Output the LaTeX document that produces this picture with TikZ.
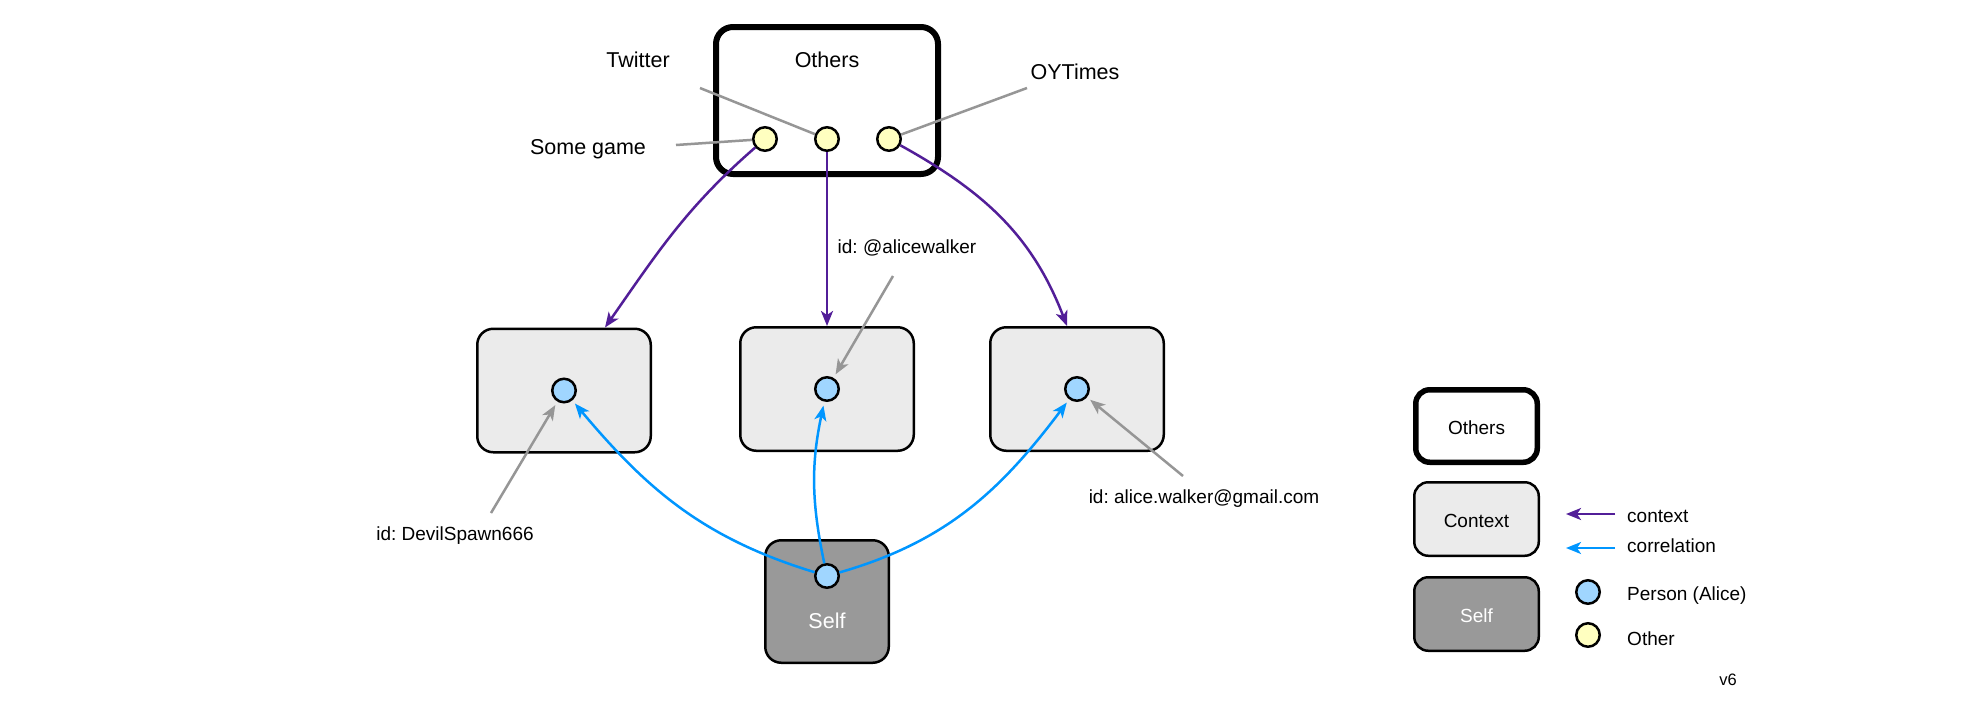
\documentclass[tikz,border=0pt]{standalone}
\usepackage{fontspec}
\setmainfont{Liberation Sans}
\usetikzlibrary{arrows.meta, positioning, calc}

\definecolor{ctxpurple}{RGB}{82,30,152}
\definecolor{corrblue}{RGB}{0,150,255}
\definecolor{tagGray}{RGB}{150,150,150}
\definecolor{ctxgray}{RGB}{235,235,235}
\definecolor{selfgray}{RGB}{153,153,153}
\definecolor{personfill}{RGB}{160,214,255}
\definecolor{otherfill}{RGB}{255,255,192}

\tikzset{
  lbl/.style={font=\fontsize{21.5}{26}\selectfont, inner sep=0pt, text height=15.4pt, text depth=0pt},
  keylbl/.style={font=\fontsize{19}{23}\selectfont, inner sep=0pt, text height=16pt, text depth=0pt},
  groupbox/.style={draw, line width=6pt, rounded corners=17pt, minimum width=222pt, minimum height=147pt},
  ctxbox/.style={draw, fill=ctxgray, line width=2.5pt, rounded corners=16pt, minimum width=173.5pt, minimum height=123.5pt},
  selfbox/.style={draw, fill=selfgray, line width=2.5pt, rounded corners=16pt, minimum width=123.5pt, minimum height=122.5pt},
  keybox/.style={draw, line width=2.5pt, rounded corners=14pt, minimum width=124.5pt, minimum height=73.5pt, keylbl},
  dot/.style={circle, draw, line width=2.5pt, minimum size=23.5pt, inner sep=0pt},
  persondot/.style={dot, fill=personfill},
  otherdot/.style={dot, fill=otherfill},
  ctxarrow/.style={draw=ctxpurple, line width=2.5pt, -{Stealth[length=15pt, width=12pt, inset=4pt]}},
  corrarrow/.style={draw=corrblue, line width=2.5pt, -{Stealth[length=15pt, width=12pt, inset=4pt]}},
  idarrow/.style={draw=tagGray, line width=2.5pt, shorten >=4pt, -{Stealth[length=15pt, width=12pt, inset=4pt]}},
  tagline/.style={draw=tagGray, line width=2.5pt}
}

\begin{document}
\frenchspacing
\begin{tikzpicture}[x=1pt, y=1pt]
\useasboundingbox[fill=white] (0,0) rectangle (1977,-716);

% Others group
\node[groupbox] (others) at (827,-100.5) {};
\node[lbl] (otherstitle) at ([yshift=-36pt]others.north) {Others};
\node[otherdot] (sgame) at (765,-139) {};
\node[otherdot] (twit) at (827,-139) {};
\node[otherdot] (oyt) at (889,-139) {};

% Tags of the others
\node[lbl] (lsgame) at (588,-147) {Some game};
\node[lbl] (ltwit) at (638,-60) {Twitter};
\node[lbl] (loyt) at (1075,-72) {OYTimes};
\coordinate (sgameend) at (676,-145);
\coordinate (twitend) at (700,-88);
\coordinate (oytend) at (1027,-88);
\draw[tagline] (sgameend) -- (sgame);
\draw[tagline] (twitend) -- (twit);
\draw[tagline] (oytend) -- (oyt);

% Contexts
\node[ctxbox] (ctxleft) at (564,-390.5) {};
\node[ctxbox] (ctxmid) at (827,-389) {};
\node[ctxbox] (ctxright) at (1077,-389) {};
\node[persondot] (pleft) at (ctxleft) {};
\node[persondot] (pmid) at (ctxmid) {};
\node[persondot] (pright) at (ctxright) {};

% Self
\node[selfbox] (self) at (827,-601.5) {};
\node[lbl, text=white] (selftitle) at ([yshift=-19pt]self.center) {Self};
\node[persondot] (pself) at (827,-576) {};

% Context arrows
\draw[ctxarrow] (sgame) to[out=-139, in=55] ([xshift=41pt]ctxleft.north);
\draw[ctxarrow] (twit) -- (ctxmid);
\draw[ctxarrow] (oyt) to[out=-29, in=111] ([xshift=-10pt]ctxright.north);

% Correlation arrows
\draw[corrarrow, shorten >=4pt] (pself) to[out=163, in=-50] (pleft);
\draw[corrarrow, shorten >=4pt] (pself) to[out=102, in=-102] (pmid);
\draw[corrarrow, shorten >=4pt] (pself) to[out=16, in=-127] (pright);

% Identifiers
\node[keylbl] (idmid) at (907,-245) {id: @alicewalker};
\node[keylbl] (idleft) at (455,-532) {id: DevilSpawn666};
\node[keylbl] (idright) at (1204,-495) {id: alice.walker@gmail.com};
\coordinate (idmidtail) at (893,-276);
\coordinate (idlefttail) at (491,-513);
\coordinate (idrighttail) at (1183,-476);
\draw[idarrow] (idmidtail) -- (pmid);
\draw[idarrow] (idlefttail) -- (pleft);
\draw[idarrow] (idrighttail) -- (pright);

% Legend
\node[keybox, line width=5.5pt, minimum width=121.5pt, minimum height=72.5pt] (keyothers) at (1476.5,-426) {Others};
\node[keybox, fill=ctxgray] (keyctx) at (1476.5,-519) {Context};
\node[keybox, fill=selfgray, text=white] (keyself) at (1476.5,-614) {Self};
\coordinate (ctxtail) at (1615,-514);
\coordinate (ctxhead) at (1566,-514);
\coordinate (corrtail) at (1615,-548);
\coordinate (corrhead) at (1566,-548);
\draw[ctxarrow] (ctxtail) -- (ctxhead);
\draw[corrarrow] (corrtail) -- (corrhead);
\node[persondot] (keyperson) at (1588,-592) {};
\node[otherdot] (keyother) at (1588,-635) {};
\node[keylbl, anchor=west] (lctx) at (1627,-514) {context};
\node[keylbl, anchor=west] (lcorr) at (1627,-544) {correlation};
\node[keylbl, anchor=west] (lperson) at (1627,-592) {Person (Alice)};
\node[keylbl, anchor=west] (lother) at (1627,-637) {Other};
\node[font=\fontsize{16.5}{20}\selectfont, inner sep=0pt, text height=11.8pt, text depth=0pt] (version) at (1728,-680) {v6};
\end{tikzpicture}
\end{document}
